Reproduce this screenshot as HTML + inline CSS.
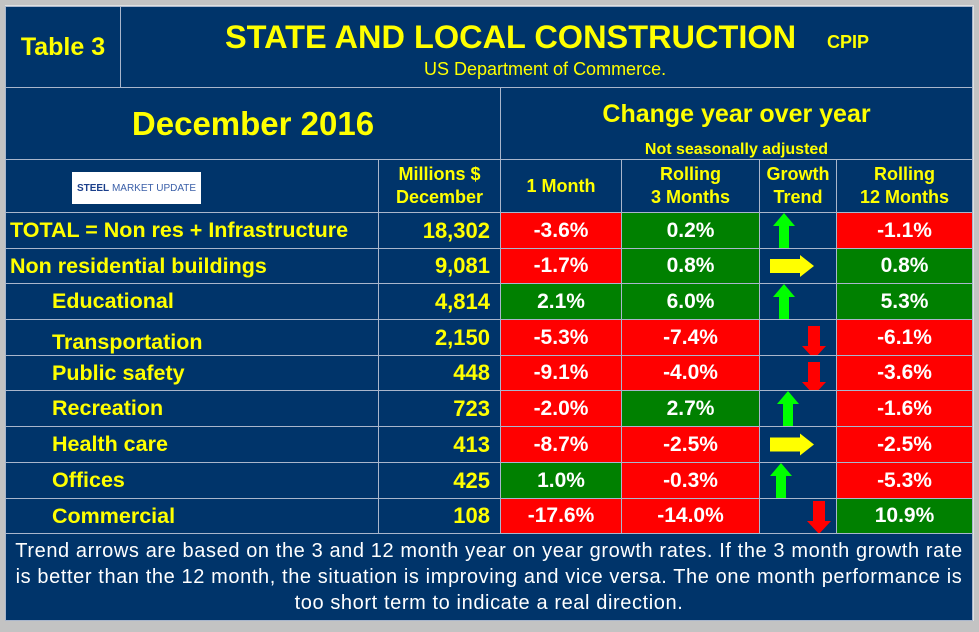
<!DOCTYPE html>
<html><head><meta charset="utf-8"><style>
body{margin:0;width:979px;height:632px;background:#c3c3c3;position:relative;overflow:hidden;font-family:"Liberation Sans",Arial,sans-serif;font-weight:bold}
.c{position:absolute;box-sizing:border-box;display:flex;align-items:center;justify-content:center;color:#ffff00;border:1px solid #a9b6cc;background:#00346a}
.w{color:#fff;font-size:21px}
</style></head><body>
<div style="position:absolute;left:5px;top:5px;width:969px;height:616px;background:#00346a;border:1px solid #e0e0e0;box-sizing:border-box"></div>
<div class="c" style="left:5px;top:6px;width:116px;height:82px;font-size:25px">Table 3</div>
<div class="c" style="left:120px;top:6px;width:853px;height:82px;display:block">
 <div style="position:absolute;left:104px;top:12px;font-size:32.5px;white-space:nowrap">STATE AND LOCAL CONSTRUCTION</div>
 <div style="position:absolute;left:706px;top:25px;font-size:18px">CPIP</div>
 <div style="position:absolute;left:303px;top:52px;font-size:18px;font-weight:normal;white-space:nowrap">US Department of Commerce.</div>
</div>
<div class="c" style="left:5px;top:87px;width:496px;height:73px;font-size:33px">December 2016</div>
<div class="c" style="left:500px;top:87px;width:473px;height:73px;display:block">
 <div style="position:absolute;left:0;width:100%;top:12px;text-align:center;font-size:25px">Change year over year</div>
 <div style="position:absolute;left:0;width:100%;top:53px;text-align:center;font-size:16px">Not seasonally adjusted</div>
</div>
<div class="c" style="left:5px;top:159px;width:374px;height:54px;display:block">
 <div style="position:absolute;left:66px;top:12px;width:129px;height:32px;background:#fff;display:flex;align-items:center;justify-content:center;font-size:10px;color:#1b3f8b">STEEL <span style="color:#3a5fa8;font-weight:normal">&nbsp;MARKET UPDATE</span></div>
</div>
<div class="c" style="left:378px;top:159px;width:123px;height:54px;font-size:18px;text-align:center;line-height:23px">Millions $<br>December</div>
<div class="c" style="left:500px;top:159px;width:122px;height:54px;font-size:18px">1 Month</div>
<div class="c" style="left:621px;top:159px;width:139px;height:54px;font-size:18px;text-align:center;line-height:23px">Rolling<br>3 Months</div>
<div class="c" style="left:759px;top:159px;width:78px;height:54px;font-size:18px;text-align:center;line-height:23px">Growth<br>Trend</div>
<div class="c" style="left:836px;top:159px;width:137px;height:54px;font-size:18px;text-align:center;line-height:23px">Rolling<br>12 Months</div>
<div id="rows"></div>
<div class="c" style="left:5px;top:533px;width:968px;height:88px;color:#fff;font-weight:normal;font-size:20px;letter-spacing:0.6px;white-space:nowrap;text-align:center;line-height:26px;padding:0">Trend arrows are based on the 3 and 12 month year on year growth rates. If the 3 month growth rate<br>is better than the 12 month, the situation is improving and vice versa. The one month performance is<br>too short term to indicate a real direction.</div>
<script>
const labels=["TOTAL = Non res + Infrastructure","Non residential buildings","Educational","Transportation","Public safety","Recreation","Health care","Offices","Commercial"];
const millions=["18,302","9,081","4,814","2,150","448","723","413","425","108"];
const oneMonth=[-3.6,-1.7,2.1,-5.3,-9.1,-2.0,-8.7,1.0,-17.6];
const rolling3=[0.2,0.8,6.0,-7.4,-4.0,2.7,-2.5,-0.3,-14.0];
const rolling12=[-1.1,0.8,5.3,-6.1,-3.6,-1.6,-2.5,-5.3,10.9];
const trend=["up","right","up","down","down","up","right","up","down"];
const tops=[212,248,283,319,355,390,426,462,498,533];
const R=document.getElementById('rows');
function cell(x,w,y,h,html,style,name){const d=document.createElement('div');d.className='c';


d.style.cssText=`left:${x}px;top:${y}px;width:${w}px;height:${h}px;`+style;d.innerHTML=html;R.appendChild(d);return d;}
const fmt=v=>v.toFixed(1)+'%';
const col=v=>v>=0?'#008000':'#ff0000';
for(let i=0;i<labels.length;i++){
 const y=tops[i],h=tops[i+1]-y+1;
 const ind=i>=2;
 cell(5,374,y,h,labels[i],`justify-content:flex-start;padding-left:${ind?46:4}px;font-size:21.5px;white-space:nowrap;${i==3?'padding-top:10px;':''}`,'row-label');
 cell(378,123,y,h,millions[i],'justify-content:flex-end;padding-right:10px;font-size:22px','millions-value');
 cell(500,122,y,h,fmt(oneMonth[i]),'background:'+col(oneMonth[i]),'one-month-value').classList.add('w');
 cell(621,139,y,h,fmt(rolling3[i]),'background:'+col(rolling3[i]),'rolling-3-value').classList.add('w');
 const t=cell(759,78,y,h,'','display:block;overflow:visible','trend-cell');
 cell(836,137,y,h,fmt(rolling12[i]),'background:'+col(rolling12[i]),'rolling-12-value').classList.add('w');
 let s='';
 if(trend[i]=='up'){const cx=(i==5?28:i==7?21:24);s=`<polygon points="${cx-11},13 ${cx},0 ${cx+11},13 ${cx+5},13 ${cx+5},${h-1} ${cx-5},${h-1} ${cx-5},13" fill="#00ff00"/>`;}
 else if(trend[i]=='right'){const cy=h/2-1;s=`<polygon points="10,${cy-7} 40,${cy-7} 40,${cy-11} 54,${cy} 40,${cy+11} 40,${cy+7} 10,${cy+7}" fill="#ffff00"/>`;}
 else {const cx=i==8?59:54,y0=i==8?2:6;s=`<polygon points="${cx-6},${y0} ${cx+6},${y0} ${cx+6},${y0+20} ${cx+12},${y0+20} ${cx},${y0+33} ${cx-12},${y0+20} ${cx-6},${y0+20}" fill="#ff0000"/>`;}
 t.innerHTML=`<svg width="78" height="${h+10}" style="position:absolute;left:0;top:0;overflow:visible">${s}</svg>`;
}
</script>
</body></html>
